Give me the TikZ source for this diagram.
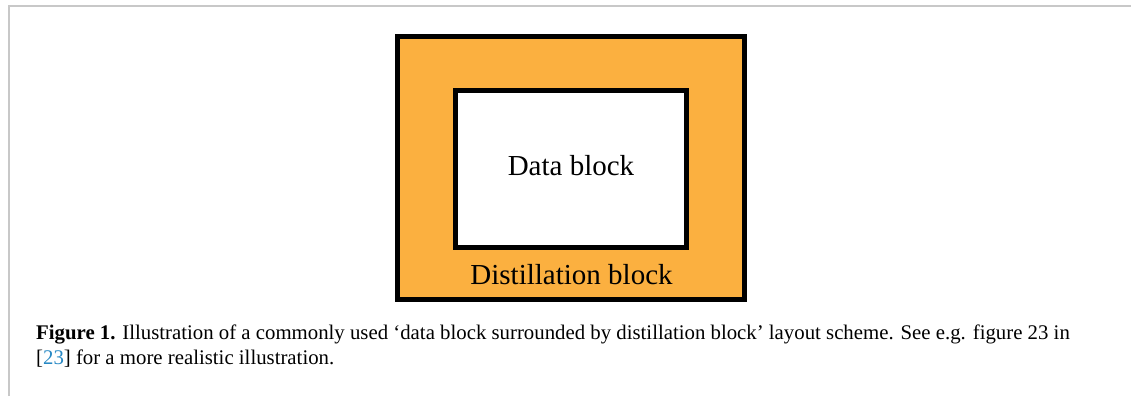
\documentclass[tikz,border=0pt]{standalone}
\usepackage{fontspec}
\setmainfont{Liberation Serif}
\definecolor{distorange}{RGB}{251,176,64}
\definecolor{framegray}{RGB}{200,200,200}
\definecolor{linkblue}{RGB}{38,136,196}
\begin{document}
\begin{tikzpicture}[x=1pt,y=-1pt,
  blockbox/.style={draw=black,line width=5pt,rectangle,inner sep=0pt},
  blocklabel/.style={font=\fontsize{29}{34}\selectfont,inner sep=0pt,anchor=base},
  captionline/.style={font=\fontsize{20.8}{25}\selectfont,inner sep=0pt,anchor=base west}]
\useasboundingbox (0,0) rectangle (1131,396);
\draw[framegray,line width=2pt] (9,396) -- (9,6) -- (1131,6);
\node[blockbox,fill=distorange,minimum width=347pt,minimum height=263pt] (outer) at (571,168) {};
\node[blockbox,fill=white,minimum width=231pt,minimum height=157pt] (inner) at (571,169) {};
\node[blocklabel] (datalabel) at (571,175) {Data block};
\node[blocklabel] (distlabel) at (571.5,284) {Distillation block};
\node[captionline] (cap1) at (36,339) {\textbf{Figure 1.} Illustration of a commonly used ‘data block surrounded by distillation block’ layout scheme. See e.g. figure 23 in};
\node[captionline] (cap2) at (36,364) {[\textcolor{linkblue}{23}] for a more realistic illustration.};
\end{tikzpicture}
\end{document}
